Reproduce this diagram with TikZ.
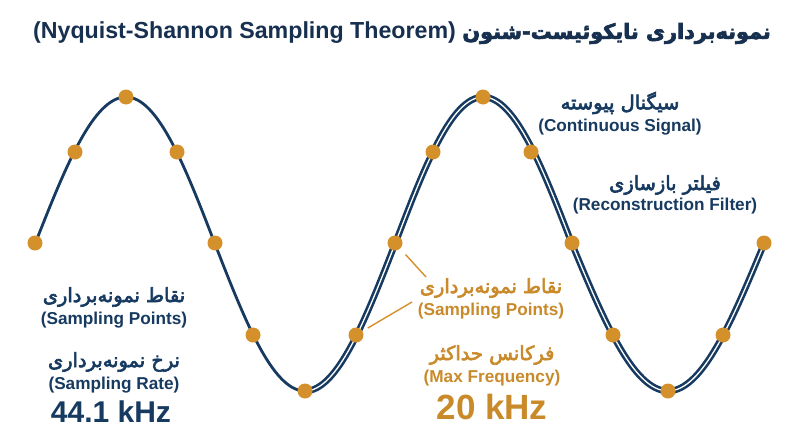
\documentclass[tikz,border=0pt]{standalone}
\usepackage{fontspec}
\setmainfont{Liberation Sans}
\newfontfamily\fa[Script=Arabic,FakeBold=3.2]{DejaVu Sans}
\TeXXeTstate=1
\usetikzlibrary{calc}
\definecolor{navy}{HTML}{173A61}
\definecolor{titlec}{HTML}{17304F}
\definecolor{gold}{HTML}{D4902B}
\definecolor{goldt}{HTML}{C98A2A}
\begin{document}
\begin{tikzpicture}[x=1pt,y=-1pt,
  sig/.style={draw=navy,line width=2.8pt},
  recon/.style={draw=navy,line width=2.6pt,double=white,double distance=1.3pt},
  dot/.style={circle,fill=gold,minimum size=15pt,inner sep=0pt},
  lead/.style={draw=gold,line width=1.4pt},
  fab/.style={font=\fa\fontsize{19.4}{21}\selectfont,inner sep=0pt},
  lab/.style={font=\bfseries\fontsize{17.2}{19}\selectfont,inner sep=0pt},
  nv/.style={text=navy},
  gd/.style={text=goldt}]
\useasboundingbox (0,0) rectangle (800,447);
\fill[white] (0,0) rectangle (800,447);
% title
\node[inner sep=0pt,text=titlec,font=\bfseries\fontsize{23.2}{26}\selectfont] (title) at (402,33)
  {(Nyquist-Shannon Sampling Theorem) {\fa\fontsize{20.8}{26}\selectfont\beginR نمونه‌برداری نایکوئیست-شنون\endR}};
% curves
\draw[sig] (35,244) sin (126,97) cos (215,244) sin (305,391) cos (395,244)
  sin (483,97) cos (572,244) sin (668,391) cos (764,244);
\draw[recon] (305,391) cos (395,244) sin (483,97) cos (572,244) sin (668,391) cos (764,244);
% sample points
\node[dot] (p1) at (35,243) {};
\node[dot] (p2) at (75,152) {};
\node[dot] (p3) at (126,97) {};
\node[dot] (p4) at (177,152) {};
\node[dot] (p5) at (215,243) {};
\node[dot] (p6) at (253,335) {};
\node[dot] (p7) at (305,391) {};
\node[dot] (p8) at (356,335) {};
\node[dot] (p9) at (395,243) {};
\node[dot] (p10) at (433,152) {};
\node[dot] (p11) at (483,97) {};
\node[dot] (p12) at (531,152) {};
\node[dot] (p13) at (572,243) {};
\node[dot] (p14) at (613,335) {};
\node[dot] (p15) at (668,391) {};
\node[dot] (p16) at (723,335) {};
\node[dot] (p17) at (764,243) {};
% right labels
\node[fab,nv] (cs1) at (620,103) {\beginR سیگنال پیوسته\endR};
\node[lab,nv] (cs2) at (620,127) {(Continuous Signal)};
\node[fab,nv] (rf1) at (665,185) {\beginR فیلتر بازسازی\endR};
\node[lab,nv] (rf2) at (665,206) {(Reconstruction Filter)};
% left labels
\node[fab,nv] (sp1) at (114,297) {\beginR نقاط نمونه‌برداری\endR};
\node[lab,nv] (sp2) at (114,320) {(Sampling Points)};
\node[fab,nv] (sr1) at (114,362) {\beginR نرخ نمونه‌برداری\endR};
\node[lab,nv] (sr2) at (114,385) {(Sampling Rate)};
\node[inner sep=0pt,nv,font=\bfseries\fontsize{30}{32}\selectfont] (sr3) at (111,412) {44.1 kHz};
% middle labels
\node[fab,gd] (ms1) at (491,288) {\beginR نقاط نمونه‌برداری\endR};
\node[lab,gd] (ms2) at (491,311) {(Sampling Points)};
\node[fab,gd] (mf1) at (492,355) {\beginR فرکانس حداکثر\endR};
\node[lab,gd] (mf2) at (492,378) {(Max Frequency)};
\node[inner sep=0pt,gd,font=\bfseries\fontsize{35}{38}\selectfont] (mf3) at (492,407) {20 kHz};
% leaders
\coordinate (a1) at (426,277);
\coordinate (a2) at (412,302);
\draw[lead,shorten >=8pt] (a1) -- (p9);
\draw[lead,shorten >=6pt] (a2) -- (p8);
\end{tikzpicture}
\end{document}
